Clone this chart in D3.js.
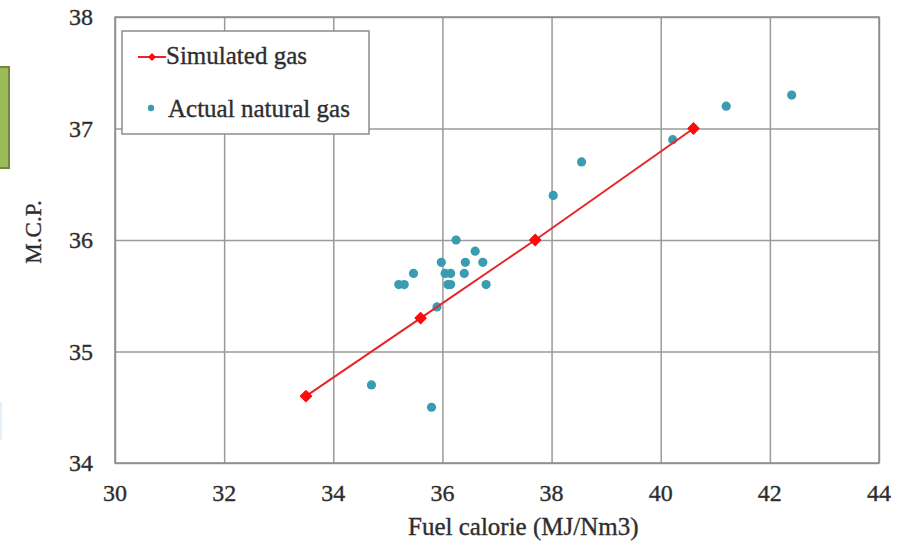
<!DOCTYPE html>
<html>
<head>
<meta charset="utf-8">
<script src="https://cdn.jsdelivr.net/npm/d3@7"></script>
<style>
  body { margin: 0; background: #fff; }
  svg text { font-family: "Liberation Serif", serif; stroke: #2e2e2e; stroke-width: 0.35; }
</style>
</head>
<body>
<div id="container"></div>
<script>
// simulated gas line
var simX = [33.5, 35.6, 37.7, 40.6];
var simY = [34.6, 35.3, 36.0, 37.0];

// actual natural gas samples
var gasX = [36.25, 36.6, 35.98, 36.42, 36.74, 35.47, 36.05, 36.15, 36.4, 35.2, 35.3, 36.1, 36.15, 36.8, 35.9, 34.7, 35.8, 38.03, 38.55, 40.22, 41.2, 42.4];
var gasY = [36.0, 35.9, 35.8, 35.8, 35.8, 35.7, 35.7, 35.7, 35.7, 35.6, 35.6, 35.6, 35.6, 35.6, 35.4, 34.7, 34.5, 36.4, 36.7, 36.9, 37.2, 37.3];

var xTicks = [30, 32, 34, 36, 38, 40, 42, 44];
var yTicks = [34, 35, 36, 37, 38];

var width = 904,
    height = 545,
    margin = {left: 115, right: 25, top: 17, bottom: 82},
    serif = "Liberation Serif",
    textColor = "#2e2e2e";

var svg = d3.select("#container").append("svg")
    .attr("width", width)
    .attr("height", height);

// bits of the slide cut off at the left edge
svg.append("rect")
    .attr("x", -6).attr("y", 67).attr("width", 15).attr("height", 101)
    .attr("fill", "#9bbb59").attr("stroke", "#71893f").attr("stroke-width", 2);
svg.append("rect")
    .attr("x", -4).attr("y", 402).attr("width", 6).attr("height", 38)
    .attr("fill", "#e4f1fb");

var x = d3.scaleLinear().domain([30, 44]).range([margin.left, width - margin.right]);
var y = d3.scaleLinear().domain([34, 38]).range([height - margin.bottom, margin.top]);

// grid
svg.append("g")
    .attr("transform", "translate(0," + (height - margin.bottom) + ")")
    .call(d3.axisBottom(x).tickValues(xTicks).tickSize(-(height - margin.bottom - margin.top)).tickFormat(""))
    .call(function(g) { g.select(".domain").remove(); })
    .selectAll("line").attr("stroke", "#9a9a9a").attr("stroke-width", 1.5);

svg.append("g")
    .attr("transform", "translate(" + margin.left + ",0)")
    .call(d3.axisLeft(y).tickValues(yTicks).tickSize(-(width - margin.right - margin.left)).tickFormat(""))
    .call(function(g) { g.select(".domain").remove(); })
    .selectAll("line").attr("stroke", "#9a9a9a").attr("stroke-width", 1.5);

svg.append("rect")
    .attr("x", margin.left).attr("y", margin.top)
    .attr("width", width - margin.left - margin.right)
    .attr("height", height - margin.top - margin.bottom)
    .attr("fill", "none").attr("stroke", "#8c8c8c").attr("stroke-width", 1.5);

// tick labels
svg.append("g").selectAll("text")
    .data(xTicks).enter().append("text")
    .attr("x", function(d) { return x(d); })
    .attr("y", 501)
    .attr("text-anchor", "middle")
    .attr("font-family", serif)
    .attr("font-size", 24)
    .attr("fill", textColor)
    .text(function(d) { return d; });

svg.append("g").selectAll("text")
    .data(yTicks).enter().append("text")
    .attr("x", 93)
    .attr("y", function(d) { return y(d) + 8; })
    .attr("text-anchor", "end")
    .attr("font-family", serif)
    .attr("font-size", 24)
    .attr("fill", textColor)
    .text(function(d) { return d; });

// axis titles
svg.append("text")
    .attr("x", 408).attr("y", 535)
    .attr("font-family", serif)
    .attr("font-size", 25)
    .attr("fill", textColor)
    .text("Fuel calorie (MJ/Nm3)");

svg.append("text")
    .attr("transform", "translate(41,232) rotate(-90)")
    .attr("text-anchor", "middle")
    .attr("font-family", serif)
    .attr("font-size", 23)
    .attr("fill", textColor)
    .text("M.C.P.");

// actual points
svg.append("g").selectAll("circle")
    .data(gasX).enter().append("circle")
    .attr("cx", function(d) { return x(d); })
    .attr("cy", function(d, i) { return y(gasY[i]); })
    .attr("r", 4.6)
    .attr("fill", "#3a9cb2");

// simulated line
var line = d3.line()
    .x(function(d) { return x(d); })
    .y(function(d, i) { return y(simY[i]); });

svg.append("path")
    .attr("d", line(simX))
    .attr("fill", "none")
    .attr("stroke", "#e8242a")
    .attr("stroke-width", 2);

var diamond = d3.symbol().type(d3.symbolSquare).size(58);

svg.append("g").selectAll("path")
    .data(simX).enter().append("path")
    .attr("d", diamond)
    .attr("transform", function(d, i) { return "translate(" + x(d) + "," + y(simY[i]) + ") rotate(45)"; })
    .attr("fill", "#ff0a0a")
    .attr("stroke", "#ff0a0a")
    .attr("stroke-linejoin", "round")
    .attr("stroke-width", 1.5);

// legend
var legend = svg.append("g");
legend.append("rect")
    .attr("x", 122).attr("y", 31).attr("width", 247).attr("height", 103)
    .attr("fill", "#fff").attr("stroke", "#8c8c8c").attr("stroke-width", 1.5);

legend.append("line")
    .attr("x1", 138).attr("x2", 166).attr("y1", 57).attr("y2", 57)
    .attr("stroke", "#e8242a").attr("stroke-width", 2);
legend.append("path")
    .attr("d", d3.symbol().type(d3.symbolSquare).size(32))
    .attr("transform", "translate(152,57) rotate(45)")
    .attr("fill", "#ff0a0a");
legend.append("text")
    .attr("x", 166).attr("y", 64)
    .attr("font-family", serif)
    .attr("font-size", 25)
    .attr("fill", textColor)
    .text("Simulated gas");

legend.append("circle")
    .attr("cx", 151).attr("cy", 108).attr("r", 3.2)
    .attr("fill", "#3a9cb2");
legend.append("text")
    .attr("x", 168).attr("y", 117)
    .attr("font-family", serif)
    .attr("font-size", 25)
    .attr("fill", textColor)
    .text("Actual natural gas");
</script>
</body>
</html>
